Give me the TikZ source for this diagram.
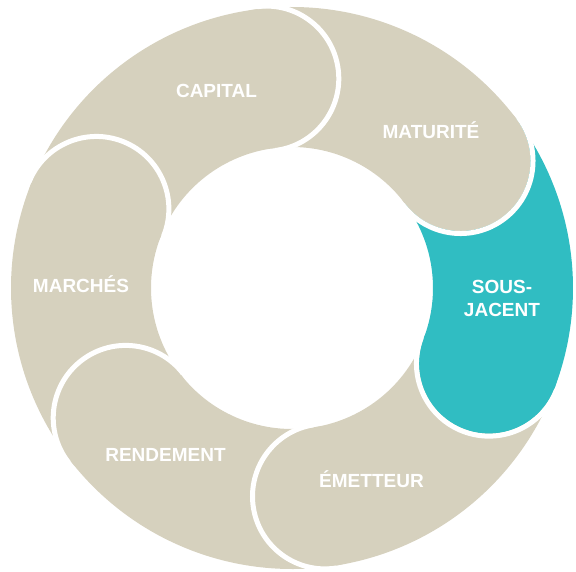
\documentclass[tikz,border=0pt]{standalone}
\usepackage{fontspec}
\newfontfamily\labelfont{Liberation Sans}
\usepackage{tikz}

\definecolor{sand}{RGB}{214,209,190}
\definecolor{lagoon}{RGB}{48,189,194}

\tikzset{
	gapline/.style={white, line width=5pt},
	seglabel/.style={text=white, anchor=base, inner sep=0pt,
		font=\labelfont\bfseries\fontsize{19}{23.5}\selectfont}
}

\begin{document}
\begin{tikzpicture}[x=1pt,y=1pt]
	\useasboundingbox (-292,-283) rectangle (284,288);
	\def\ringpart#1#2#3{
		\fill[#3] (#1:281) arc[start angle=#1, end angle=#2, radius=281]
		-- (#2:141) arc[start angle=#2, end angle=#1, radius=141] -- cycle;
	}
	\def\ringcap#1#2{
		\fill[#2] (#1:211) circle[radius=70];
		\draw[gapline] ([shift={(#1:211)}]#1:72.5) arc[start angle=#1, end angle=#1-180, radius=72.5];
	}
	
	% ring parts, clockwise
	\ringpart{158}{97}{sand}
	\ringpart{97}{37}{sand}
	\ringpart{37}{-21}{lagoon}
	\ringpart{-21}{-81}{sand}
	\ringpart{-81}{-142}{sand}
	\ringpart{218}{158}{sand}
	
	% round ends
	\ringcap{158}{sand}
	\ringcap{97}{sand}
	\ringcap{37}{sand}
	\ringcap{-21}{lagoon}
	\ringcap{-81}{sand}
	\ringcap{-142}{sand}
	
	\node[seglabel] (capital) at (-75.5,190) {CAPITAL};
	\node[seglabel] (maturite) at (139,150) {MATURITÉ};
	\node[seglabel, align=center, anchor=center] (sousjacent) at (210,-10.5) {SOUS-\\JACENT};
	\node[seglabel] (emetteur) at (79.5,-199) {ÉMETTEUR};
	\node[seglabel] (rendement) at (-126.5,-173) {RENDEMENT};
	\node[seglabel] (marches) at (-211,-4) {MARCHÉS};
\end{tikzpicture}
\end{document}
